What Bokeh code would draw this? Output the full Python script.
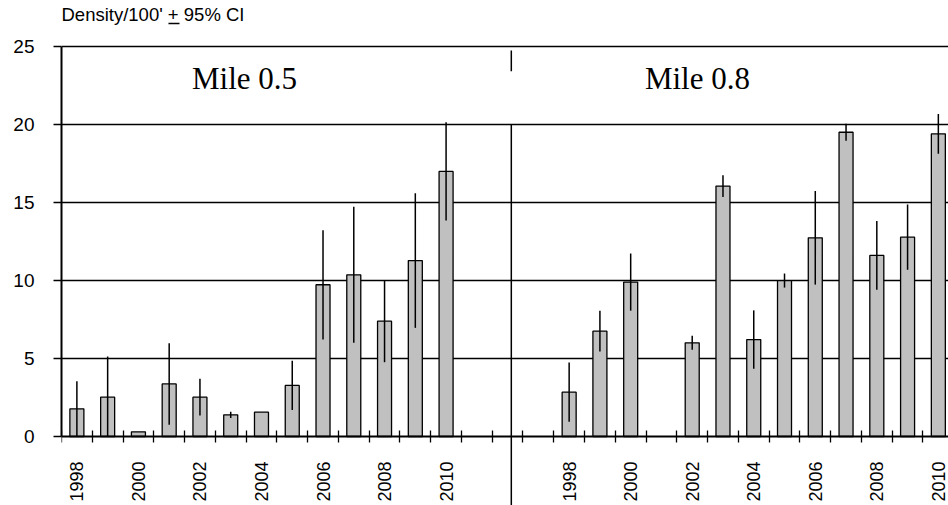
import math
import numpy as np
from bokeh.plotting import figure
from bokeh.models import ColumnDataSource, Range1d, FixedTicker, Label
from bokeh.embed import file_html
from bokeh.resources import INLINE

# ---------------- data ----------------
years = [1998, 1999, 2000, 2001, 2002, 2003, 2004, 2005, 2006, 2007, 2008, 2009, 2010]
mile05_mean = [1.77, 2.52, 0.30, 3.37, 2.52, 1.39, 1.56, 3.27, 9.72, 10.36, 7.39, 11.27, 16.98]
mile05_ci = [1.77, 2.60, 0.00, 2.61, 1.18, 0.20, 0.00, 1.58, 3.50, 4.36, 2.63, 4.31, 3.15]
mile08_mean = [2.84, 6.75, 9.89, np.nan, 6.00, 16.04, 6.21, 9.99, 12.73, 19.49, 11.60, 12.77, 19.39]
mile08_ci = [1.90, 1.30, 1.83, np.nan, 0.45, 0.70, 1.87, 0.45, 3.00, 0.55, 2.20, 2.09, 1.27]
label_years = ["1998", "2000", "2002", "2004", "2006", "2008", "2010"]
y_ticks = [0, 5, 10, 15, 20, 25]
panel_titles = ["Mile 0.5", "Mile 0.8"]
chart_title = "Density/100' + 95% CI"

# ---------------- layout constants ----------------
n_gap = 3                      # empty categories between the two panels
offset_right = len(years) + n_gap
bar_width = 0.455
x_start, x_end = -0.5, 28.33
y_start, y_end = -4.42, 27.93
divider_x = 14.12

xl = np.arange(len(years), dtype=float)
xr = xl + offset_right

def make_src(x, m, c):
    m = np.array(m, dtype=float)
    c = np.array(c, dtype=float)
    return ColumnDataSource(dict(x=x, top=m, lo=np.maximum(m - c, 0), hi=m + c))

src_l = make_src(xl, mile05_mean, mile05_ci)
src_r = make_src(xr, mile08_mean, mile08_ci)

p = figure(width=948, height=505, output_backend="svg", toolbar_location=None,
           x_range=Range1d(x_start, x_end), y_range=Range1d(y_start, y_end),
           min_border_left=61, min_border_right=0, min_border_top=0,
           min_border_bottom=0)
p.outline_line_color = None
p.background_fill_color = "white"
p.border_fill_color = "white"

# grid first
p.ygrid.ticker = FixedTicker(ticks=y_ticks[1:])
p.ygrid.grid_line_color = "black"
p.ygrid.grid_line_width = 1.3
p.ygrid.grid_line_alpha = 1.0
p.xgrid.visible = False

# bars and CI whiskers
for src in (src_l, src_r):
    p.vbar(x="x", top="top", bottom=0, width=bar_width, source=src,
           fill_color="#c0c0c0", line_color="black", line_width=1.3)
    p.segment(x0="x", y0="lo", x1="x", y1="hi", source=src,
              line_color="black", line_width=1.5)

# divider between the two panels
p.segment(x0=[divider_x, divider_x], y0=[24.72, 20.0],
          x1=[divider_x, divider_x], y1=[23.4, y_start],
          line_color="black", line_width=1.5)

# x axis: labels at every other year, ticks at category boundaries
label_pos = []
overrides = {}
for off in (0, offset_right):
    for lab in label_years:
        pos = float(years.index(int(lab)) + off)
        label_pos.append(pos)
        overrides[pos] = lab
boundaries = [i - 0.5 for i in range(0, offset_right + len(years) + 1)]
p.xaxis.fixed_location = 0
p.xaxis.ticker = FixedTicker(ticks=label_pos, minor_ticks=boundaries)
p.xaxis.major_label_overrides = overrides
p.xaxis.major_label_orientation = math.pi / 2
p.xaxis.major_tick_in = 0
p.xaxis.major_tick_out = 0
p.xaxis.minor_tick_in = 6
p.xaxis.minor_tick_out = 6
p.xaxis.minor_tick_line_color = "black"
p.xaxis.minor_tick_line_width = 1.3
p.xaxis.axis_line_color = "black"
p.xaxis.axis_line_width = 2
p.xaxis.major_label_standoff = 19
p.xaxis.major_label_text_font = "Liberation Sans"
p.xaxis.major_label_text_font_size = "18px"
p.xaxis.major_label_text_color = "black"

# y axis
p.yaxis.ticker = FixedTicker(ticks=y_ticks, minor_ticks=[])
p.yaxis.bounds = (0, 25)
p.yaxis.major_tick_in = 0
p.yaxis.major_tick_out = 8
p.yaxis.major_tick_line_color = "black"
p.yaxis.major_tick_line_width = 1.3
p.yaxis.axis_line_color = "black"
p.yaxis.axis_line_width = 2
p.yaxis.major_label_standoff = 19
p.yaxis.major_label_text_font = "Liberation Sans"
p.yaxis.major_label_text_font_size = "19px"
p.yaxis.major_label_text_color = "black"

# chart title (top-left, above the plot area)
p.add_layout(Label(x=x_start, y=27.03, text=chart_title, text_align="left",
                   text_baseline="middle", text_font="Liberation Sans",
                   text_font_size="18.5px", text_color="black"))
# underline of the "+" sign (meaning plus/minus)
p.segment(x0=[2.977], y0=[26.46], x1=[3.335], y1=[26.46],
          line_color="black", line_width=1.5)

# panel titles
for txt, xc in zip(panel_titles, (5.45, 20.17)):
    p.add_layout(Label(x=xc, y=22.93, text=txt, text_align="center",
                       text_baseline="middle", text_font="Liberation Serif",
                       text_font_size="31px", text_color="black"))

open("out.html", "w").write(file_html(p, INLINE))
